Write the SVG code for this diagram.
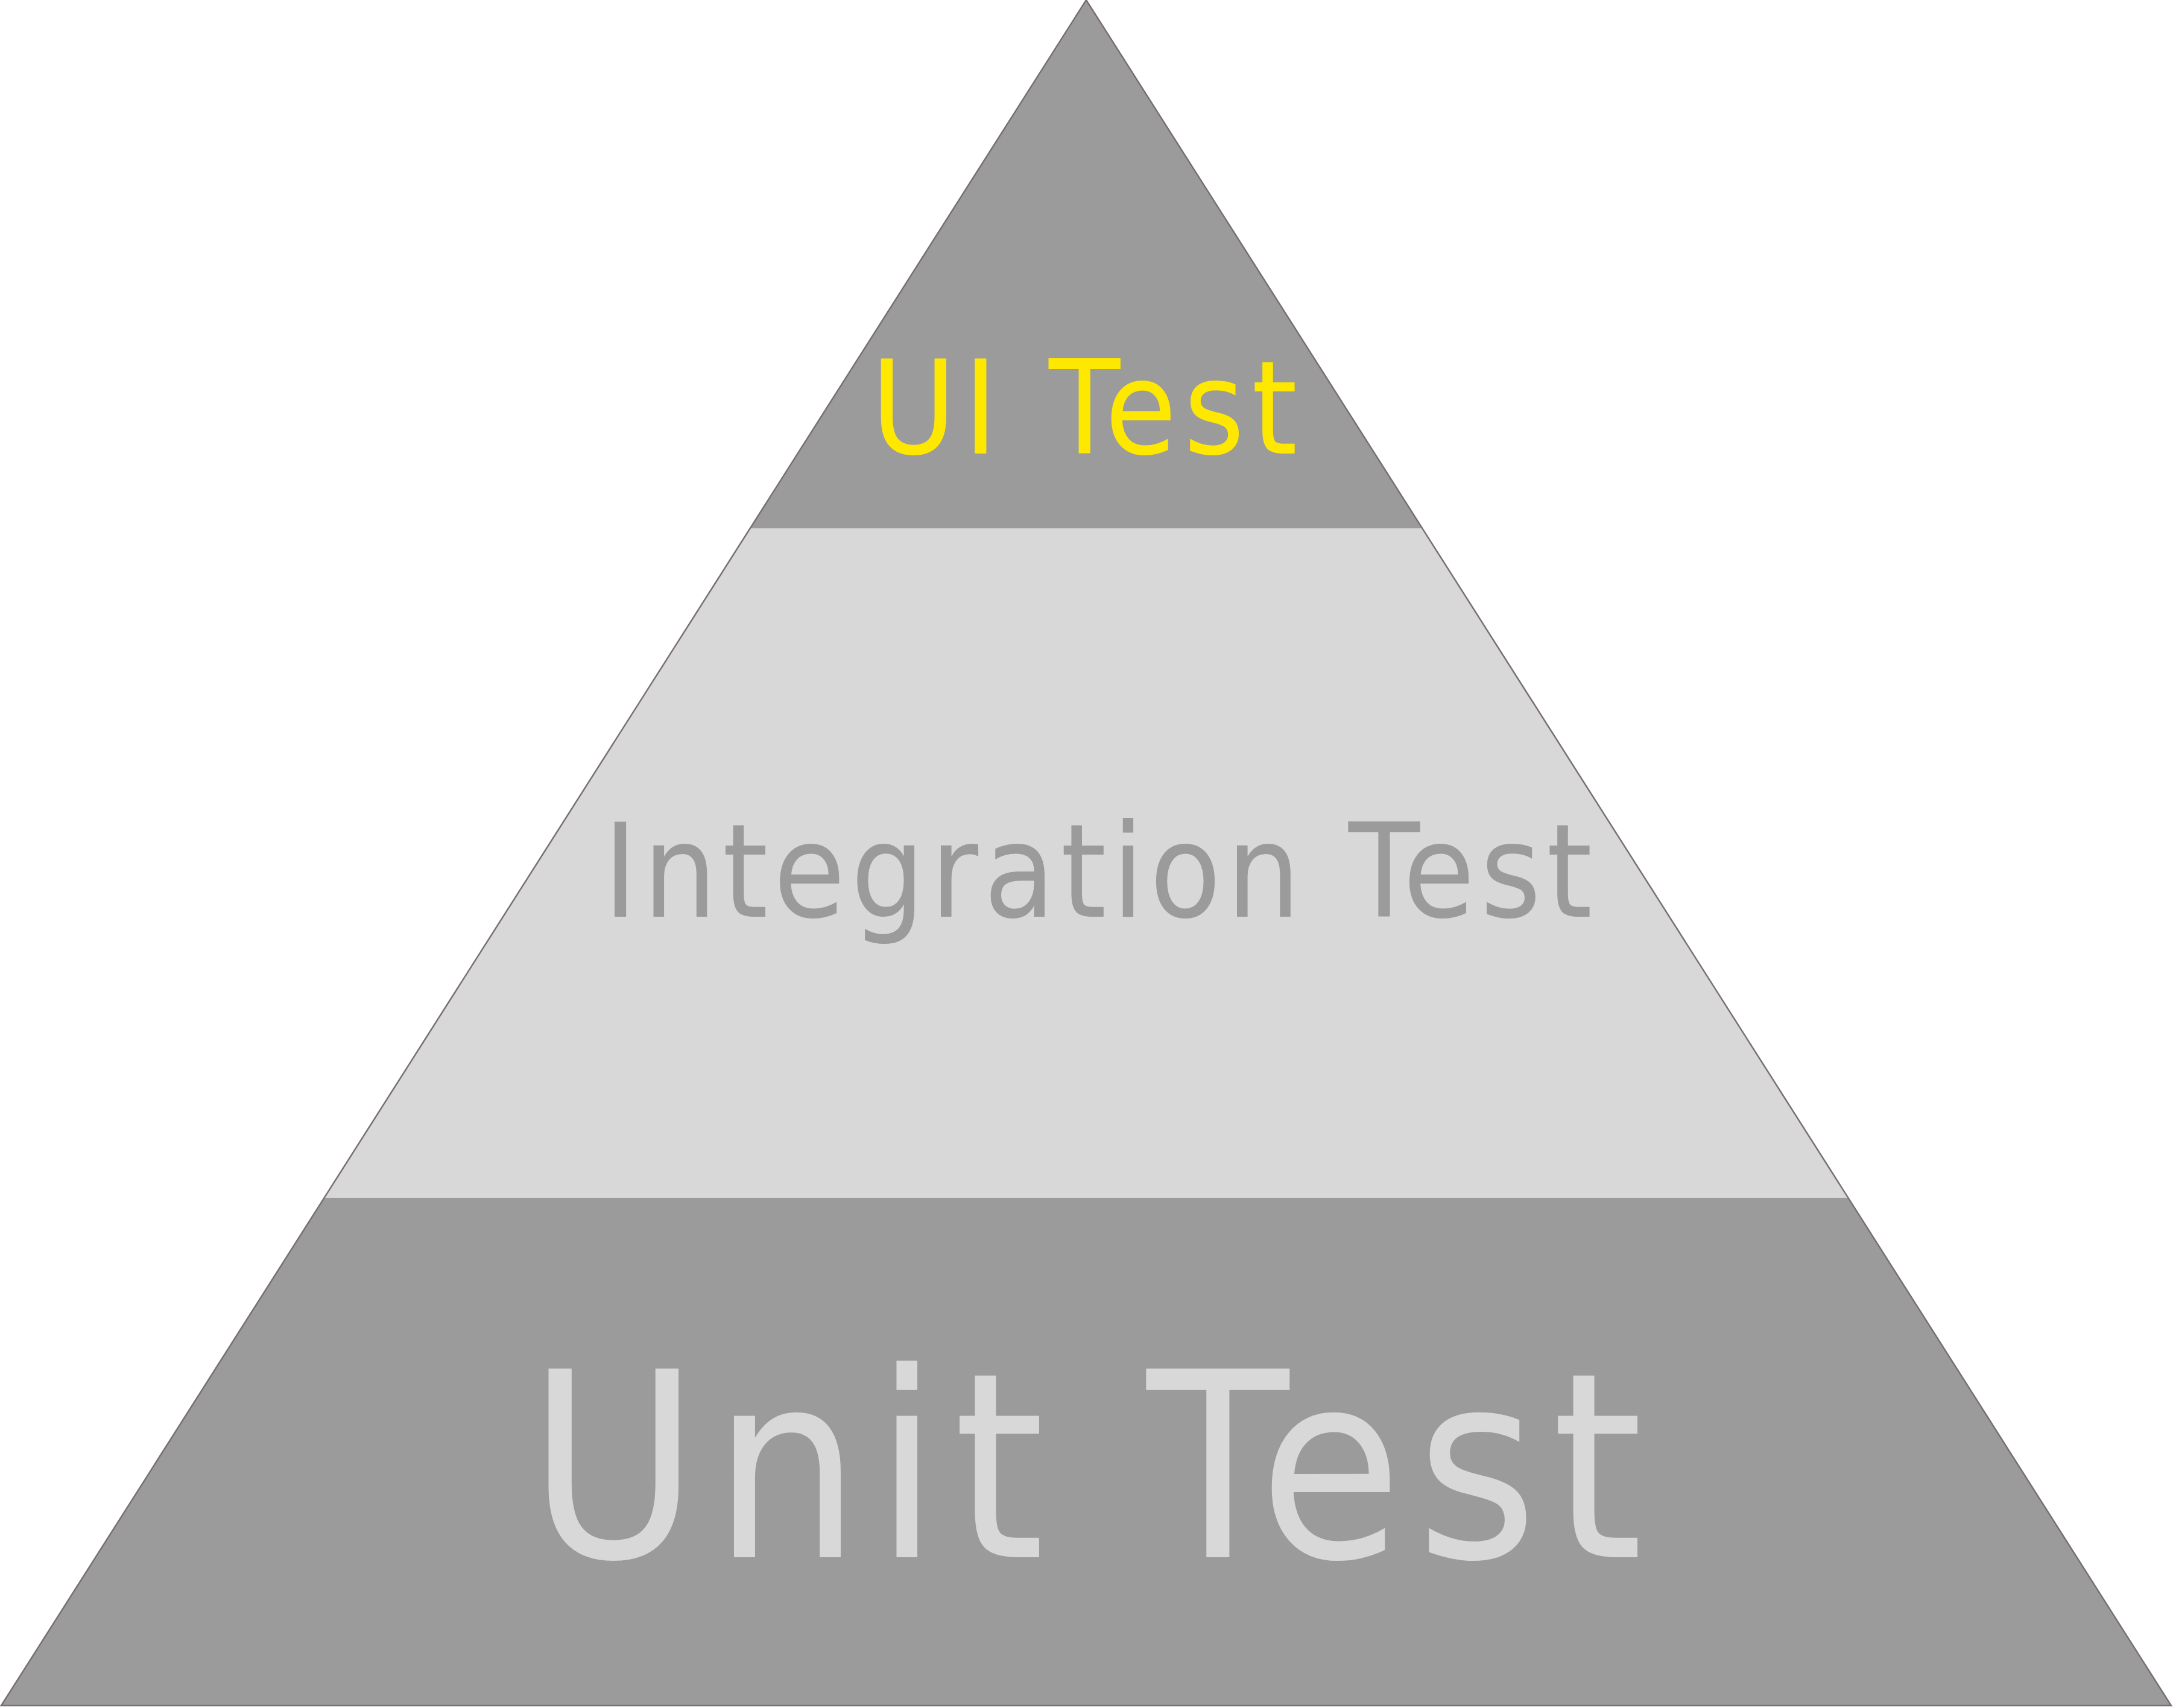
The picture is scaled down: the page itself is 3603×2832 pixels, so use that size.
<svg xmlns="http://www.w3.org/2000/svg" width="3603" height="2832" viewBox="0 0 3603 2832">
<style>
.dark{fill:#9b9b9b}
.light{fill:#d8d8d8}
.lbl{font-family:"DejaVu Sans Condensed","DejaVu Sans",sans-serif;font-stretch:condensed}
</style>
<rect width="3603" height="2832" fill="#ffffff"/>
<g id="ui-test">
<polygon class="dark" points="1801,0 2358,876 1244,876"/>
<text class="lbl" x="1444" y="752" font-size="215" fill="#ffe800" textLength="707" lengthAdjust="spacing">UI Test</text>
</g>
<g id="integration-test">
<polygon class="light" points="1244,876 2358,876 3065,1986 538,1986"/>
<text class="lbl" x="1000" y="1520" font-size="215" fill="#9b9b9b" textLength="1640" lengthAdjust="spacing">Integration Test</text>
</g>
<g id="unit-test">
<polygon class="dark" points="538,1986 3065,1986 3600,2828 2,2828"/>
<text class="lbl" x="876" y="2582" font-size="429" fill="#d8d8d8" textLength="1848" lengthAdjust="spacing">Unit Test</text>
</g>
<g id="connectors">
<polygon points="1801,0 3600,2828 2,2828" fill="none" stroke="#7a6f6f" stroke-width="2.5" stroke-linejoin="miter"/>
</g>
</svg>
